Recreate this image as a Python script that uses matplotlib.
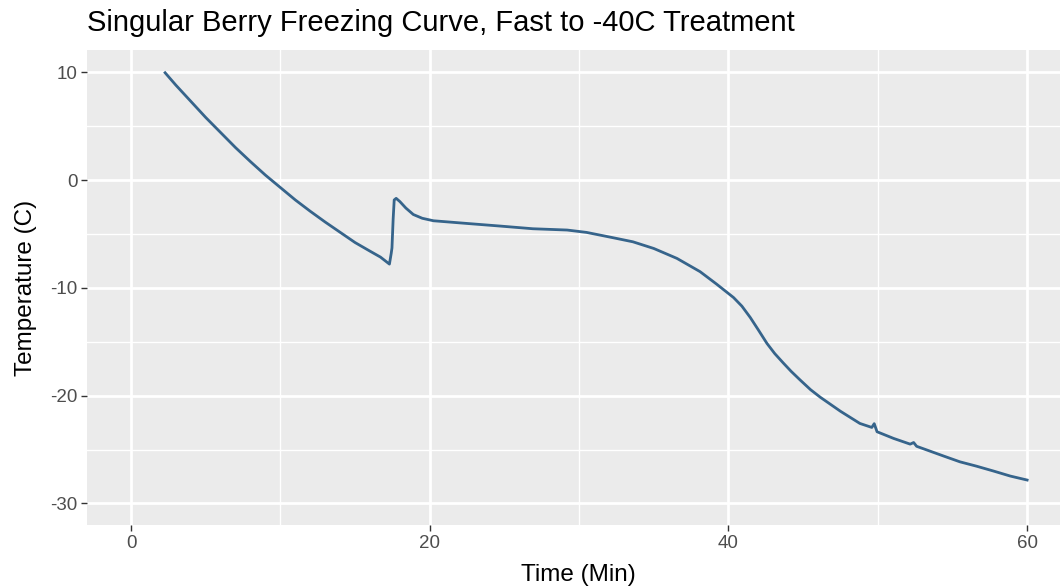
import matplotlib.pyplot as plt
from matplotlib.ticker import MultipleLocator

# values
time_min = [2.28, 3.0, 4.0, 5.0, 6.0, 7.0, 8.0, 9.0, 10.0, 11.0,
            12.0, 13.0, 14.0, 15.0, 16.0, 16.7, 17.30, 17.42, 17.47, 17.55,
            17.62, 17.75, 18.0, 18.4, 18.9, 19.5, 20.25, 22.5, 24.7, 26.9,
            29.2, 30.5, 32.3, 33.6, 35.0, 36.55, 38.1, 39.2, 40.34, 40.9,
            41.46, 42.0, 42.58, 43.1, 43.69, 44.2, 44.8, 45.5, 46.15, 47.5,
            48.8, 49.6, 49.76, 49.95, 51.06, 52.17, 52.4, 52.6, 53.3, 54.4,
            55.5, 56.6, 57.76, 58.87, 60.0]
temp_c = [9.95, 8.8, 7.3, 5.8, 4.4, 3.0, 1.7, 0.45, -0.7, -1.85,
          -2.9, -3.9, -4.85, -5.8, -6.6, -7.15, -7.8, -6.8, -6.3, -3.6,
          -1.85, -1.7, -2.0, -2.6, -3.2, -3.55, -3.78, -4.03, -4.27, -4.52,
          -4.64, -4.86, -5.36, -5.73, -6.35, -7.27, -8.5, -9.65, -10.9, -11.7,
          -12.75, -13.9, -15.16, -16.1, -17.0, -17.75, -18.55, -19.45, -20.15, -21.45,
          -22.58, -22.95, -22.6, -23.35, -23.97, -24.5, -24.35, -24.7, -25.05, -25.6,
          -26.14, -26.54, -27.0, -27.46, -27.83]

x_ticks = [0, 20, 40, 60]
y_ticks = [-30, -20, -10, 0, 10]

plt.rcParams['font.family'] = ['Liberation Sans', 'DejaVu Sans']
plt.rcParams['axes.unicode_minus'] = False

fig = plt.figure(figsize=(10.6, 5.88), dpi=100)
ax = fig.add_axes([87 / 1060, 63 / 588, 973 / 1060, 475 / 588])
ax.set_facecolor('#EBEBEB')

ax.plot(time_min, temp_c, color='#36648B', linewidth=2.0, solid_joinstyle='round')

ax.set_xlim(-2.95, 62.2)
ax.set_ylim(-32.0, 12.06)
ax.set_xticks(x_ticks)
ax.set_yticks(y_ticks)
ax.xaxis.set_minor_locator(MultipleLocator(10))
ax.yaxis.set_minor_locator(MultipleLocator(5))
ax.grid(which='major', color='white', linewidth=2.0)
ax.grid(which='minor', color='white', linewidth=1.0)
ax.set_axisbelow(True)
for s in ax.spines.values():
    s.set_visible(False)

ax.tick_params(which='major', length=4, width=1.0, color='#333333',
               labelcolor='#4D4D4D', labelsize=13.5, pad=3)
ax.tick_params(which='minor', length=0)

ax.set_xlabel('Time (Min)', fontsize=17.5)
ax.xaxis.set_label_coords(0.5046, -0.082)
ax.set_ylabel('Temperature (C)', fontsize=17.5, labelpad=9)
ax.set_title('Singular Berry Freezing Curve, Fast to -40C Treatment',
             fontsize=21, loc='left', pad=13.5)

fig.savefig('out.png', dpi=100)
